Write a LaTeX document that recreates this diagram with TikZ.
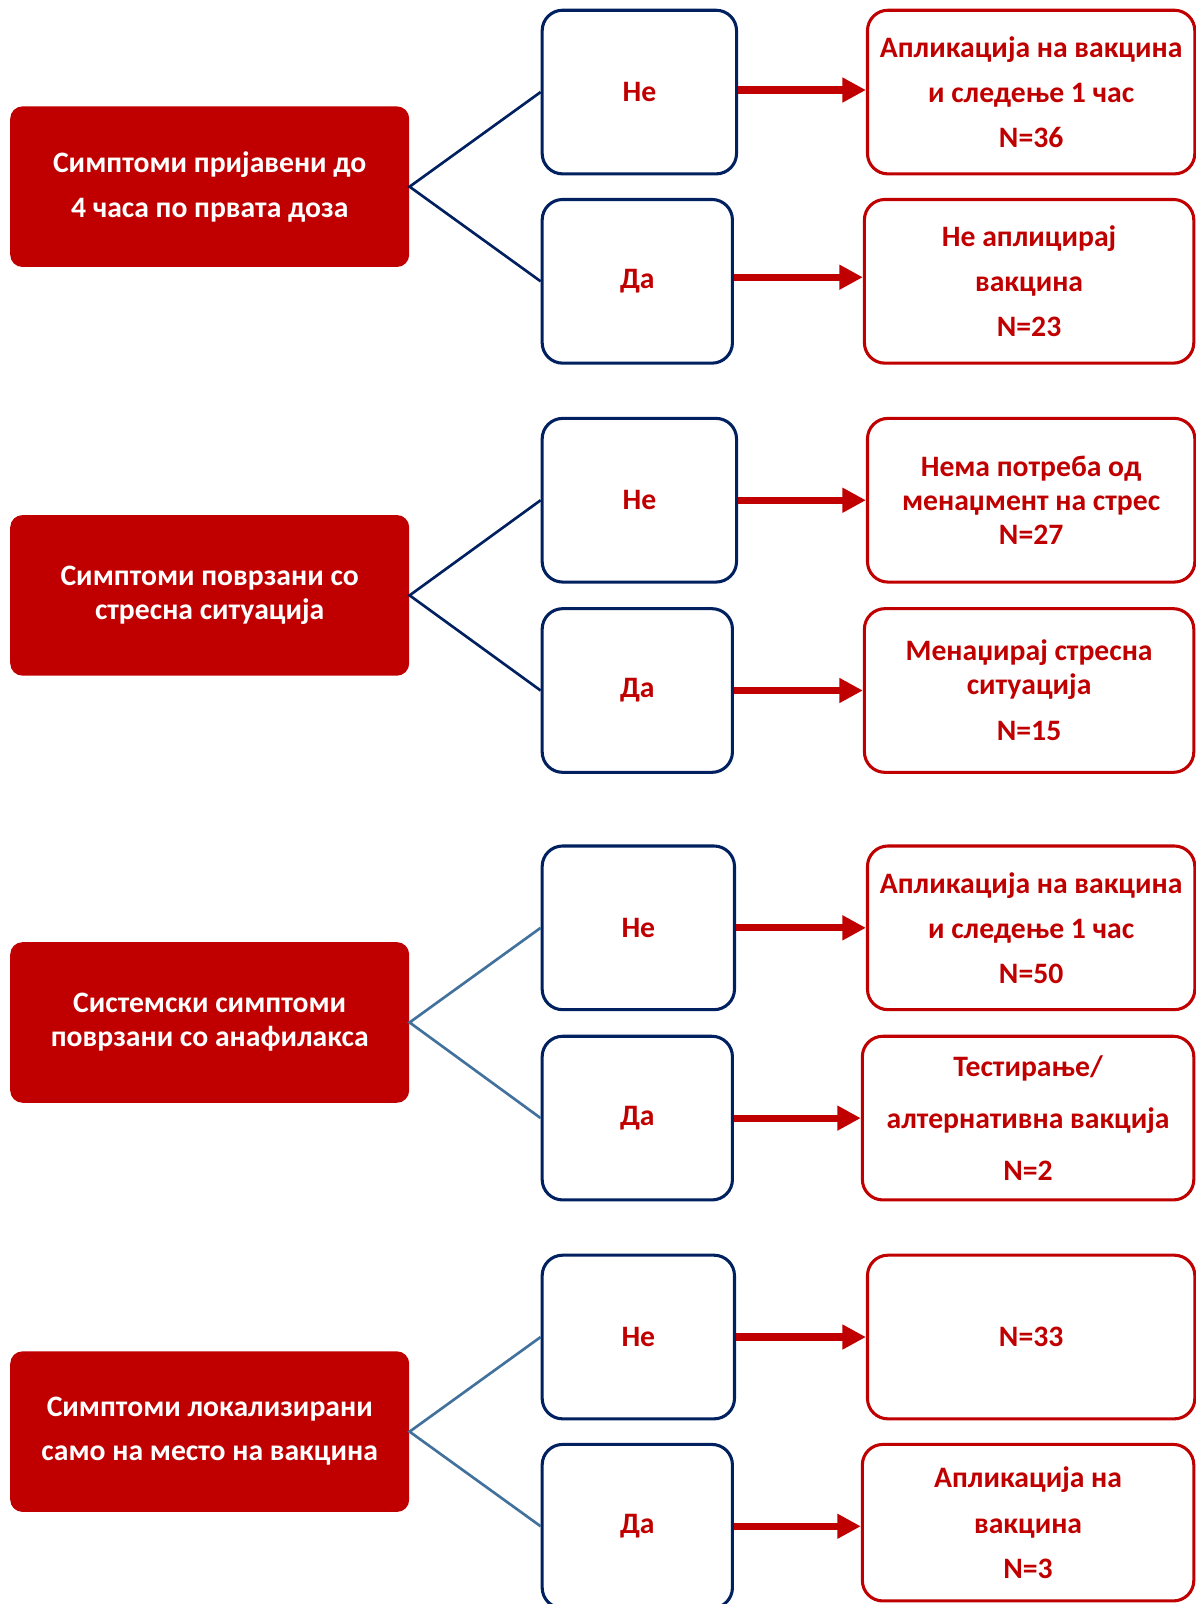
\documentclass[tikz,border=0pt]{standalone}
\usepackage{fontspec}
\setmainfont{Carlito}
\usetikzlibrary{arrows.meta}
\definecolor{dred}{HTML}{C00000}
\definecolor{navy}{HTML}{002060}
\definecolor{steel}{HTML}{41719C}
\tikzset{
  redbox/.style={draw=none, fill=dred, rounded corners=6pt, minimum width=195pt, minimum height=78.5pt, inner sep=0pt, align=center, text=white, font=\bfseries\fontsize{14.5}{22}\selectfont},
  bluebox/.style={draw=navy, line width=1.5pt, rounded corners=10pt, minimum height=80pt, inner sep=0pt, text=dred, font=\bfseries\fontsize{14.5}{22}\selectfont},
  outbox/.style={draw=dred, line width=1.5pt, rounded corners=10pt, minimum height=80pt, inner sep=0pt, align=center, text=dred, font=\bfseries\fontsize{14.5}{22}\selectfont},
  link/.style={line width=1.3pt},
  arr/.style={draw=dred, line width=3.5pt, -{Triangle[length=11.5pt,width=11.5pt]}},
}
\begin{document}
\begin{tikzpicture}[x=0.5pt,y=-0.5pt]
\useasboundingbox (0,0) rectangle (1169,1568);
% ---------- Group 1 ----------
\node[redbox] (q1) at (205,182.5) {Симптоми пријавени до\\4 часа по првата доза};
\node[bluebox, minimum width=95pt] (n1) at (625,90) {Не};
\node[bluebox, minimum width=93pt] (d1) at (623,275) {Да};
\node[outbox, minimum width=160pt] (o1) at (1008,90) {Апликација на вакцина\\и следење 1 час\\N=36};
\node[outbox, minimum width=161pt] (o2) at (1006,275) {Не аплицирај\\вакцина\\N=23};
\draw[link, navy] (n1.west) -- (q1.east) -- (d1.west);
\draw[arr] ([yshift=1pt]n1.east) -- ([yshift=1pt]n1.east -| o1.west);
\draw[arr] ([yshift=2pt]d1.east) -- ([yshift=2pt]d1.east -| o2.west);
% ---------- Group 2 ----------
\node[redbox, font=\bfseries\fontsize{14.5}{16.5}\selectfont] (q2) at (205,582) {Симптоми поврзани со\\стресна ситуација};
\node[bluebox, minimum width=95pt] (n2) at (625,489) {Не};
\node[bluebox, minimum width=93pt] (d2) at (623,675) {Да};
\node[outbox, minimum width=160pt, font=\bfseries\fontsize{14.5}{16.5}\selectfont] (o3) at (1008,489) {Нема потреба од\\менаџмент на стрес\\N=27};
\node[outbox, minimum width=161pt, font=\bfseries\fontsize{14.5}{16.5}\selectfont] (o4) at (1006,675) {Менаџирај стресна\\ситуација\\[6pt]N=15};
\draw[link, navy] (n2.west) -- (q2.east) -- (d2.west);
\draw[arr] (n2.east) -- (n2.east -| o3.west);
\draw[arr] (d2.east) -- (d2.east -| o4.west);
% ---------- Group 3 ----------
\node[redbox, font=\bfseries\fontsize{14.5}{16.5}\selectfont] (q3) at (205,999.5) {Системски симптоми\\поврзани со анафилакса};
\node[bluebox, minimum width=94pt] (n3) at (624,907) {Не};
\node[bluebox, minimum width=93pt] (d3) at (623,1093) {Да};
\node[outbox, minimum width=160pt] (o5) at (1008,907) {Апликација на вакцина\\и следење 1 час\\N=50};
\node[outbox, minimum width=162pt, font=\bfseries\fontsize{14.5}{25.5}\selectfont] (o6) at (1005,1093) {Тестирање/\\алтернативна вакција\\N=2};
\draw[link, steel] (n3.west) -- (q3.east) -- (d3.west);
\draw[arr] (n3.east) -- (n3.east -| o5.west);
\draw[arr] (d3.east) -- (d3.east -| o6.west);
% ---------- Group 4 ----------
\node[redbox, font=\bfseries\fontsize{14.5}{21.5}\selectfont] (q4) at (205,1399.5) {Симптоми локализирани\\само на место на вакцина};
\node[bluebox, minimum width=94pt] (n4) at (624,1307) {Не};
\node[bluebox, minimum width=93pt] (d4) at (623,1492) {Да};
\node[outbox, minimum width=160pt] (o7) at (1008,1307) {N=33};
\node[outbox, minimum width=162pt, minimum height=76.5pt] (o8) at (1005,1488.5) {Апликација на\\вакцина\\N=3};
\draw[link, steel] (n4.west) -- (q4.east) -- (d4.west);
\draw[arr] (n4.east) -- (n4.east -| o7.west);
\draw[arr] (d4.east) -- (d4.east -| o8.west);
\end{tikzpicture}
\end{document}
